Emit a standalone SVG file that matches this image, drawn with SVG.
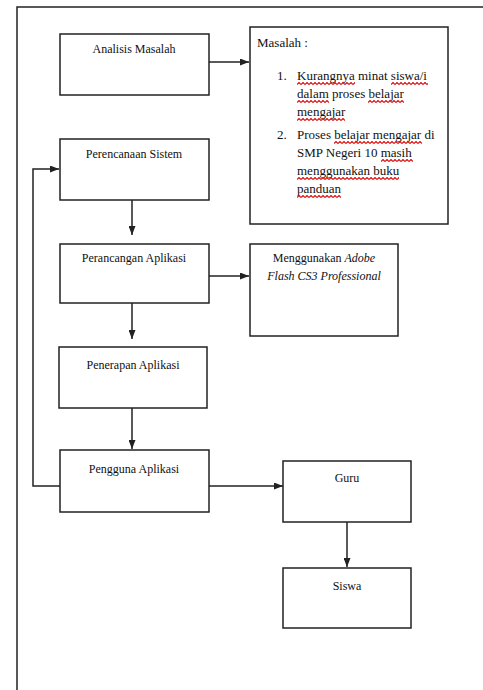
<svg xmlns="http://www.w3.org/2000/svg" width="483" height="690" viewBox="0 0 483 690">
<style>
.box{fill:#fff;stroke:#222;stroke-width:1.5}
.ln{fill:none;stroke:#222;stroke-width:1.5}
.t{font-family:"Liberation Serif","Times New Roman",serif;font-size:12px;fill:#111}
.m{font-family:"Liberation Serif","Times New Roman",serif;font-size:13px;fill:#111}
.c{text-anchor:middle}
.it{font-style:italic}
</style>
<defs>
<marker id="ah" markerUnits="userSpaceOnUse" markerWidth="9" markerHeight="7" refX="9" refY="3.5" orient="auto">
<path d="M0,0 L9,3.5 L0,7 z" fill="#222"/>
</marker>
<pattern id="wave" patternUnits="userSpaceOnUse" width="4" height="3">
<path d="M0,2.5 L2,0.5 L4,2.5" fill="none" stroke="#e01010" stroke-width="1.2"/>
</pattern>
</defs>

<g id="frame">
<path class="ln" d="M17,690 L17,7 L483,7"/>
</g>

<g id="connectors">
<path class="ln" d="M209,62 L249,62" marker-end="url(#ah)"/>
<path class="ln" d="M132,200 L132,235" marker-end="url(#ah)"/>
<path class="ln" d="M209,276 L249,276" marker-end="url(#ah)"/>
<path class="ln" d="M132,303 L132,339" marker-end="url(#ah)"/>
<path class="ln" d="M132,408 L132,449" marker-end="url(#ah)"/>
<path class="ln" d="M209,486 L283,486" marker-end="url(#ah)"/>
<path class="ln" d="M347,522 L347,567" marker-end="url(#ah)"/>
<path class="ln" d="M60,486 L33,486 L33,169 L59,169" marker-end="url(#ah)"/>
</g>

<g id="analisis">
<rect class="box" x="60" y="34" width="149" height="61"/>
<text class="t c" x="134" y="53">Analisis Masalah</text>
</g>

<g id="masalah">
<rect class="box" x="250" y="27" width="198" height="197"/>
<text class="m" x="257" y="47">Masalah :</text>
<text class="m" x="277" y="80">1.</text>
<text class="m" x="297" y="80">Kurangnya minat siswa/i</text>
<text class="m" x="297" y="98">dalam proses belajar</text>
<text class="m" x="297" y="116">mengajar</text>
<text class="m" x="277" y="139">2.</text>
<text class="m" x="297" y="139">Proses belajar mengajar di</text>
<text class="m" x="297" y="157">SMP Negeri 10 masih</text>
<text class="m" x="297" y="175">menggunakan buku</text>
<text class="m" x="297" y="193">panduan</text>
<g id="spelling">
<rect transform="translate(297,82)" width="58" height="3" fill="url(#wave)"/>
<rect transform="translate(391,82)" width="37" height="3" fill="url(#wave)"/>
<rect transform="translate(297,100)" width="32" height="3" fill="url(#wave)"/>
<rect transform="translate(368,100)" width="36" height="3" fill="url(#wave)"/>
<rect transform="translate(297,118)" width="48" height="3" fill="url(#wave)"/>
<rect transform="translate(334,141)" width="88" height="3" fill="url(#wave)"/>
<rect transform="translate(381,159)" width="32" height="3" fill="url(#wave)"/>
<rect transform="translate(297,177)" width="102" height="3" fill="url(#wave)"/>
<rect transform="translate(297,195)" width="44" height="3" fill="url(#wave)"/>
</g>
</g>

<g id="perencanaan">
<rect class="box" x="60" y="139" width="149" height="61"/>
<text class="t c" x="134" y="158">Perencanaan Sistem</text>
</g>

<g id="perancangan">
<rect class="box" x="60" y="244" width="149" height="59"/>
<text class="t c" x="134" y="262">Perancangan Aplikasi</text>
</g>

<g id="menggunakan">
<rect class="box" x="250" y="244" width="148" height="92"/>
<text class="t c" x="324" y="262">Menggunakan <tspan class="it">Adobe</tspan></text>
<text class="t c it" x="324" y="280">Flash CS3 Professional</text>
</g>

<g id="penerapan">
<rect class="box" x="59" y="347" width="148" height="61"/>
<text class="t c" x="133" y="369">Penerapan Aplikasi</text>
</g>

<g id="pengguna">
<rect class="box" x="60" y="450" width="149" height="62"/>
<text class="t c" x="134" y="473">Pengguna Aplikasi</text>
</g>

<g id="guru">
<rect class="box" x="283" y="461" width="128" height="61"/>
<text class="t c" x="347" y="482">Guru</text>
</g>

<g id="siswa">
<rect class="box" x="283" y="568" width="128" height="60"/>
<text class="t c" x="347" y="590">Siswa</text>
</g>
</svg>
